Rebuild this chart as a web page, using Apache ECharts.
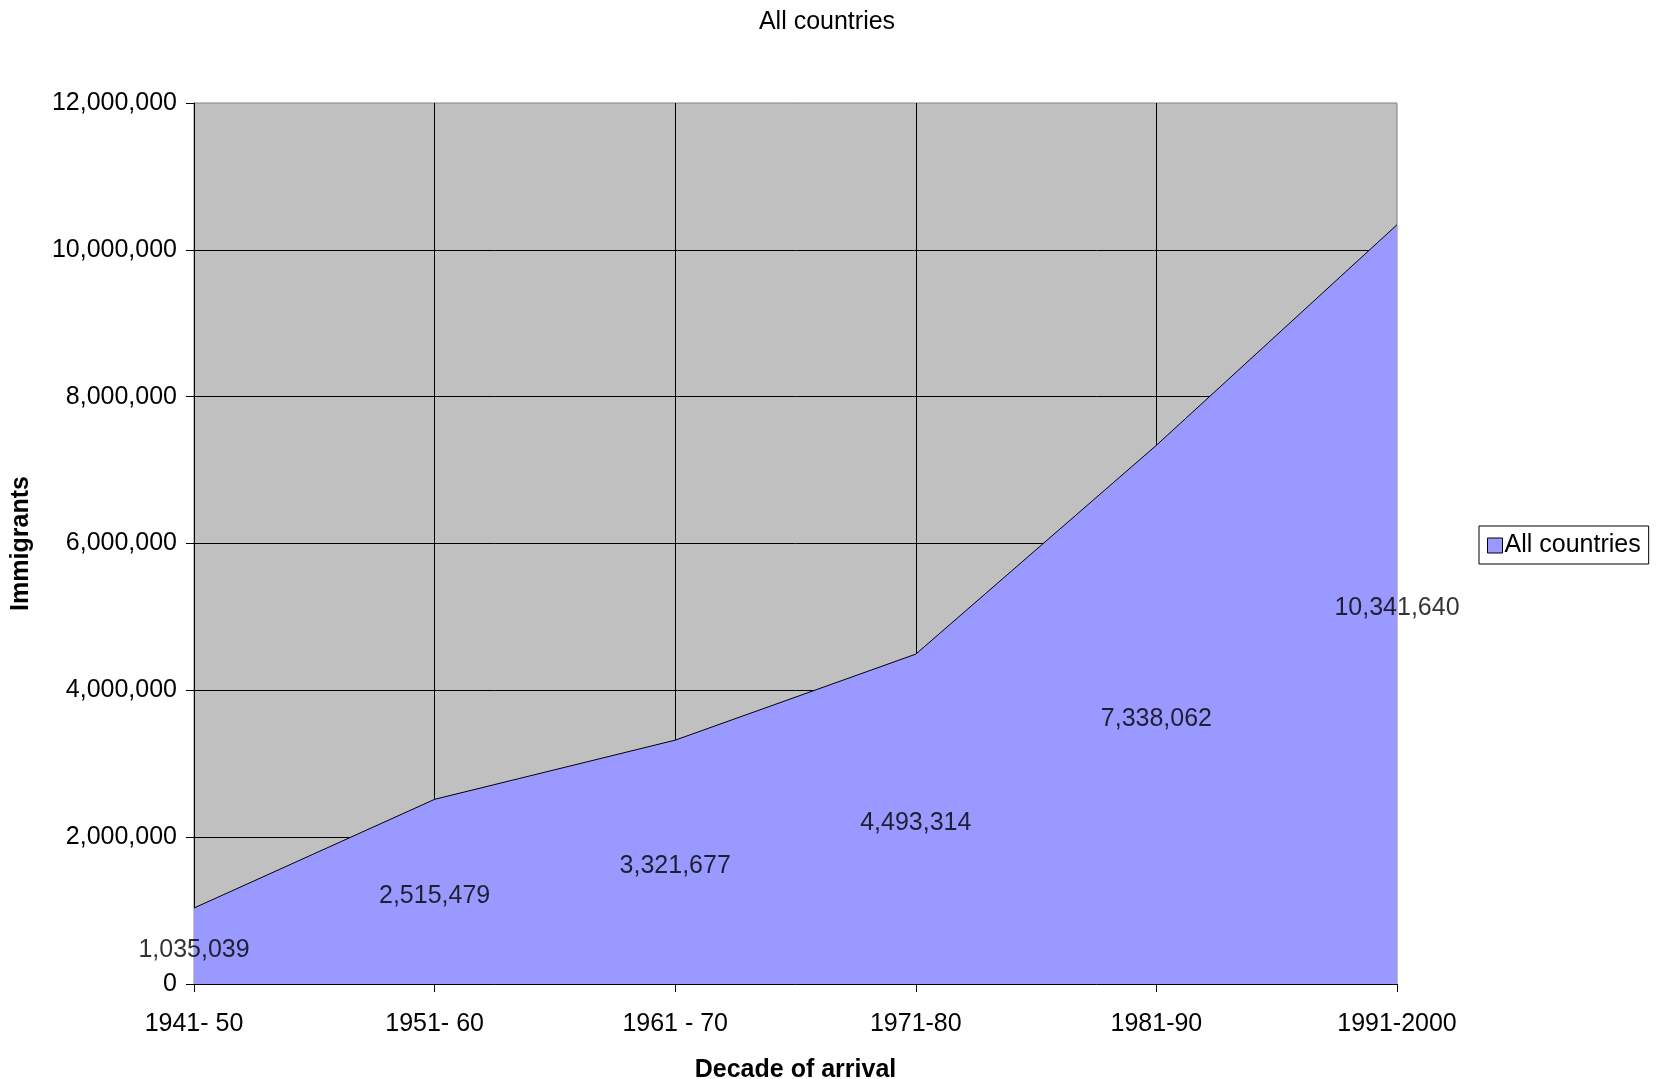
<!DOCTYPE html>
<html>
<head>
<meta charset="utf-8">
<style>
  html, body { margin: 0; padding: 0; background: #fff; }
  #chart { width: 1661px; height: 1079px; }
</style>
<script src="https://cdn.jsdelivr.net/npm/echarts@6/dist/echarts.min.js"></script>
</head>
<body>
<div id="chart"></div>
<script>
// Immigrants by decade of arrival, all countries
const decades = ['1941- 50', '1951- 60', '1961 - 70', '1971-80', '1981-90', '1991-2000'];
const immigrants = [1035039, 2515479, 3321677, 4493314, 7338062, 10341640];
const yTicks = [0, 2000000, 4000000, 6000000, 8000000, 10000000, 12000000];

const FONT = 'Arial, "Liberation Sans", sans-serif';
const FS = 25;
const fmt = v => v.toLocaleString('en-US');

const chart = echarts.init(document.getElementById('chart'), null, { renderer: 'canvas' });

chart.setOption({
  animation: false,
  backgroundColor: '#ffffff',
  textStyle: { fontFamily: FONT },
  title: {
    text: 'All countries',
    left: 822,
    top: 5,
    textAlign: 'center',
    textStyle: { fontFamily: FONT, fontSize: FS, fontWeight: 'normal', color: '#000' }
  },
  legend: {
    data: ['All countries'],
    left: 1479,
    top: 526,
    orient: 'vertical',
    backgroundColor: '#fff',
    borderColor: '#000',
    borderWidth: 1,
    borderRadius: 0,
    padding: [7, 8, 6, 8],
    itemWidth: 15,
    itemHeight: 15,
    itemGap: 2,
    icon: 'rect',
    itemStyle: { color: '#9999FF', borderColor: '#000', borderWidth: 1 },
    textStyle: { fontFamily: FONT, fontSize: FS, color: '#000', padding: [0, 0, 0, -3] }
  },
  grid: {
    left: 194, right: 264, top: 103, bottom: 95,
    outerBoundsMode: 'none',
    containLabel: false,
    show: true,
    backgroundColor: '#C0C0C0',
    borderColor: '#808080',
    borderWidth: 1
  },
  xAxis: {
    type: 'category',
    data: decades,
    boundaryGap: false,
    name: 'Decade of arrival',
    nameLocation: 'middle',
    nameGap: 74,
    nameTextStyle: { fontFamily: FONT, fontSize: FS, fontWeight: 'bold', color: '#000' },
    axisLine: { show: true, lineStyle: { color: '#000', width: 1 } },
    axisTick: { show: true, length: 8, lineStyle: { color: '#000' } },
    axisLabel: { fontFamily: FONT, fontSize: FS, color: '#000', margin: 28 },
    splitLine: {
      show: true,
      interval: (i) => i > 0 && i < decades.length - 1,
      lineStyle: { color: '#000', width: 1 }
    }
  },
  yAxis: {
    type: 'value',
    min: yTicks[0],
    max: yTicks[yTicks.length - 1],
    interval: yTicks[1] - yTicks[0],
    name: 'Immigrants',
    nameLocation: 'middle',
    nameGap: 160,
    nameTextStyle: { fontFamily: FONT, fontSize: FS, fontWeight: 'bold', color: '#000' },
    axisLine: { show: true, lineStyle: { color: '#000', width: 1 } },
    axisTick: { show: true, length: 8, lineStyle: { color: '#000' } },
    axisLabel: { fontFamily: FONT, fontSize: FS, color: '#000', margin: 17, formatter: v => fmt(v) },
    splitLine: { show: true, showMinLine: false, showMaxLine: false, lineStyle: { color: '#000', width: 1 } }
  },
  series: [
    {
      name: 'All countries',
      type: 'line',
      data: immigrants,
      symbol: 'none',
      lineStyle: { color: '#000', width: 1 },
      itemStyle: { color: '#9999FF', borderColor: '#000', borderWidth: 1 },
      areaStyle: { color: '#9999FF', opacity: 1 },
      z: 2
    },
    {
      // value labels sit halfway up each point's column of area
      name: 'labels',
      type: 'scatter',
      data: immigrants.map((v, i) => [i, v / 2]),
      symbolSize: 0,
      silent: true,
      z: 5,
      label: {
        show: true,
        position: 'inside',
        offset: [0, 4],
        fontFamily: FONT,
        fontSize: FS,
        color: '#000',
        formatter: p => fmt(immigrants[p.dataIndex])
      }
    }
  ]
});
</script>
</body>
</html>
